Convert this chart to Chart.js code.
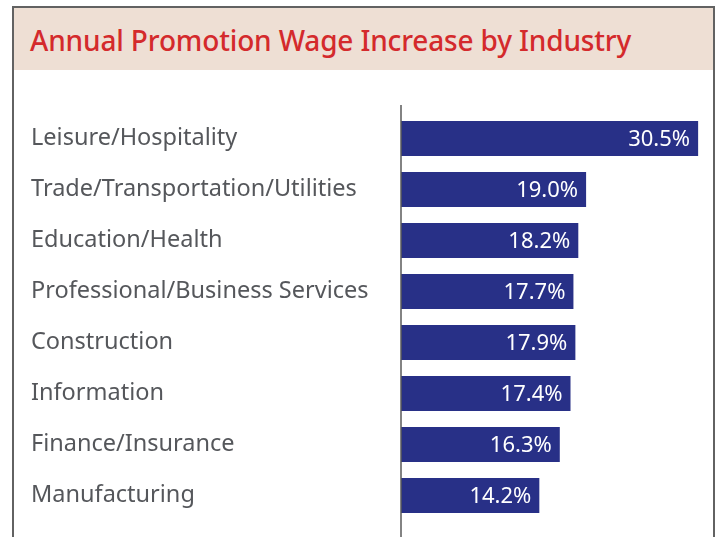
<!DOCTYPE html>
<html>
<head>
<meta charset="utf-8">
<script src="https://cdn.jsdelivr.net/npm/chart.js@4/dist/chart.umd.min.js"></script>
<style>
  html, body { margin: 0; padding: 0; background: #fff; }
  body { width: 719px; height: 537px; overflow: hidden; position: relative; font-family: "Noto Sans", sans-serif; }
  .frame {
    position: absolute; left: 12px; top: 6px; width: 699px; height: 560px;
    border: 2px solid #626262; border-bottom: none; box-sizing: content-box;
  }
  .header {
    height: 62px; background: #eedfd4; color: #d42a2c;
    font-size: 28px; font-weight: 500; line-height: 64px; padding-left: 16px;
    letter-spacing: -0.15px; white-space: nowrap;
  }
  #chart { position: absolute; left: 0; top: 0; }
</style>
</head>
<body>
<div class="frame"><div class="header">Annual Promotion Wage Increase by Industry</div></div>
<canvas id="chart" width="719" height="537"></canvas>
<script>
"use strict";

// industries top to bottom, with the yearly wage bump on promotion (%)
const industries = [
  "Leisure/Hospitality",
  "Trade/Transportation/Utilities",
  "Education/Health",
  "Professional/Business Services",
  "Construction",
  "Information",
  "Finance/Insurance",
  "Manufacturing",
];
const wageIncrease = [30.5, 19.0, 18.2, 17.7, 17.9, 17.4, 16.3, 14.2];
const xMin = 0;
const xMax = 31;

const barColor = "#283087";
const labelColor = "#55575b";

// percentage text sits inside the right end of each bar
const valueLabels = {
  id: "valueLabels",
  afterDatasetsDraw(chart) {
    const ctx = chart.ctx;
    const meta = chart.getDatasetMeta(0);
    ctx.save();
    ctx.font = '22px "Noto Sans", sans-serif';
    ctx.fillStyle = "#ffffff";
    ctx.textAlign = "right";
    ctx.textBaseline = "middle";
    meta.data.forEach(function (bar, i) {
      ctx.fillText(wageIncrease[i].toFixed(1) + "%", bar.x - 8, bar.y + 1);
    });
    ctx.restore();
  },
};

// the vertical axis line runs a bit above the first bar and down off the page
const axisLine = {
  id: "axisLine",
  afterDraw(chart) {
    const ctx = chart.ctx;
    const x = chart.chartArea.left;
    ctx.save();
    ctx.strokeStyle = "#5a5a5a";
    ctx.lineWidth = 1.5;
    ctx.beginPath();
    ctx.moveTo(x, chart.chartArea.top - 8);
    ctx.lineTo(x, chart.height);
    ctx.stroke();
    ctx.restore();
  },
};

const data = {
  labels: industries,
  datasets: [
    {
      data: wageIncrease,
      backgroundColor: barColor,
      borderWidth: 0,
      categoryPercentage: 1,
      barPercentage: 0.69,
    },
  ],
};

const config = {
  type: "bar",
  data: data,
  options: {
    indexAxis: "y",
    responsive: false,
    animation: false,
    layout: { padding: { left: 31, top: 113, right: 16, bottom: 16 } },
    plugins: { legend: { display: false }, tooltip: { enabled: false } },
    scales: {
      x: { display: false, min: xMin, max: xMax },
      y: {
        grid: { display: false },
        border: { display: false },
        ticks: {
          crossAlign: "far",
          padding: 0,
          color: labelColor,
          font: { family: '"Noto Sans", sans-serif', size: 23.5 },
        },
        afterFit(scale) {
          scale.width = 370;
        },
      },
    },
  },
  plugins: [valueLabels, axisLine],
};

const myChart = new Chart(document.getElementById("chart"), config);
</script>
</body>
</html>
